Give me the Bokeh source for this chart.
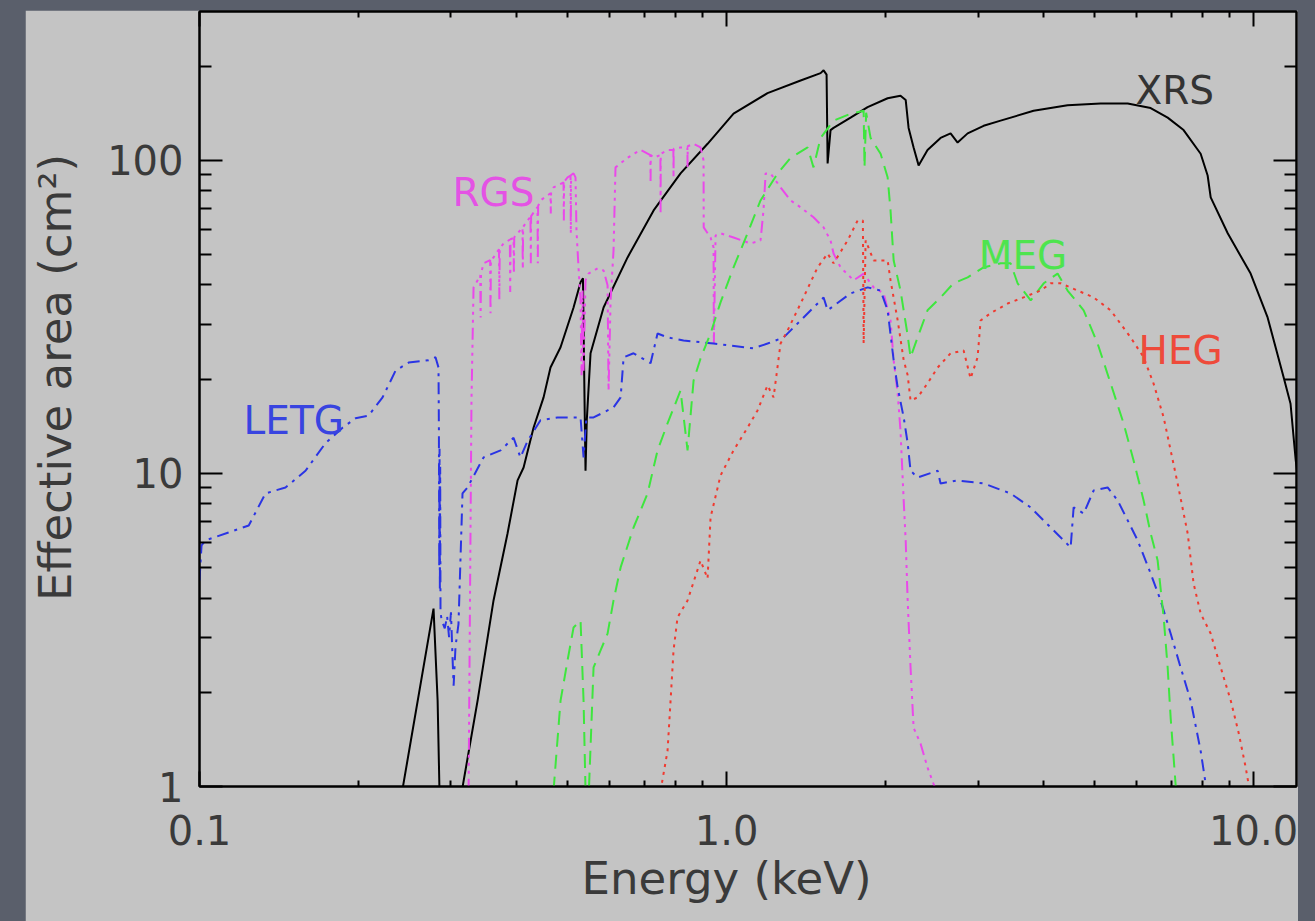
import numpy as np
from bokeh.plotting import figure
from bokeh.models import FixedTicker, LogAxis, Label, PrintfTickFormatter
from bokeh.layouts import column
from bokeh.embed import file_html
from bokeh.resources import INLINE

nan = np.nan

# ---------------- data: (energy keV, effective area cm^2) ----------------
xrs = [(0.2425, 0.97), (0.2780, 3.70), (0.2830, 1.88), (0.2853, 0.97), (nan, nan),
       (0.3147, 0.97), (0.3370, 1.88), (0.3613, 3.93), (0.3841, 6.43), (0.4013, 9.50),
       (0.4120, 10.45), (0.4303, 14.0), (0.4496, 17.5), (0.4634, 21.8), (0.4842, 25.3),
       (0.5125, 33.9), (0.5284, 40.8), (0.5340, 42.0), (0.5377, 17.1), (0.5400, 10.2),
       (0.5430, 14.8), (0.5520, 24.2), (0.5843, 33.9), (0.6489, 49.0), (0.7271, 69.2),
       (0.8179, 90.9), (0.9204, 113), (1.031, 141), (1.196, 164), (1.382, 180),
       (1.508, 190), (1.528, 194), (1.548, 188), (1.555, 97.8), (1.575, 125),
       (1.596, 127), (1.719, 137), (1.852, 148), (2.021, 158), (2.138, 161),
       (2.187, 156), (2.215, 127), (2.264, 110), (2.314, 96.4), (2.406, 108),
       (2.547, 118), (2.661, 122), (2.744, 114), (2.867, 122), (3.074, 129),
       (3.311, 134), (3.824, 144), (4.436, 150), (5.126, 152), (5.768, 152),
       (6.378, 147), (6.869, 137), (7.364, 125), (7.934, 105), (8.18, 89.5),
       (8.29, 76.2), (8.93, 58.5), (9.87, 43.5), (10.63, 31.5), (11.40, 20.3),
       (11.75, 16.7), (12.02, 11.0), (12.3, 8.0)]

rgs = [(0.3240, 0.97), (0.3281, 17.1), (0.3311, 39.3), (0.3370, 41.4), (0.3409, 43.0),
       (0.3415, 31.5), (0.3421, 43.5), (0.3459, 46.9), (0.3560, 48.0), (0.3566, 32.5),
       (0.3572, 48.2), (0.3613, 49.0), (0.3700, 52.0), (0.3706, 36.0), (0.3712, 52.3),
       (0.3775, 54.3), (0.3880, 55.8), (0.3886, 38.0), (0.3892, 56.0), (0.3943, 56.5),
       (0.3949, 43.5), (0.3955, 56.8), (0.4013, 58.5), (0.4100, 61.0), (0.4106, 45.0),
       (0.4112, 61.3), (0.4193, 64.3), (0.4246, 66.0), (0.4252, 46.9), (0.4258, 66.4),
       (0.4378, 71.0), (0.4384, 46.9), (0.4390, 71.5), (0.4436, 74.5), (0.4634, 78.5),
       (0.4640, 67.7), (0.4646, 79.0), (0.4696, 82.0), (0.4906, 85.0), (0.4912, 64.3),
       (0.4918, 85.5), (0.4993, 88.3), (0.5058, 89.5), (0.5064, 58.5), (0.5070, 89.8),
       (0.5125, 90.9), (0.5169, 88.3), (0.5191, 59.8), (0.5237, 45.5), (0.5284, 35.7),
       (0.5307, 20.6), (0.5330, 38.4), (0.5354, 21.3), (0.5400, 41.4), (0.5471, 43.5),
       (0.5691, 45.2), (0.5843, 44.5), (0.5946, 39.9), (0.5972, 18.4), (0.6025, 35.7),
       (0.6103, 51.6), (0.6156, 95.0), (0.6489, 102), (0.6867, 108), (0.7169, 104),
       (0.7175, 84.4), (0.7181, 104), (0.7271, 102), (0.7490, 104), (0.7496, 67.7),
       (0.7502, 105), (0.7727, 108), (0.7926, 108), (0.7932, 88.3), (0.7938, 109),
       (0.8179, 110), (0.8427, 110), (0.8433, 95.0), (0.8439, 111), (0.8658, 113),
       (0.8926, 110), (0.9044, 100), (0.9050, 61.1), (0.9325, 56.7), (0.9448, 52.7),
       (0.9460, 26.0), (0.9531, 57.6), (0.9740, 58.5), (1.031, 56.7), (1.111, 54.3),
       (1.160, 55.5), (1.175, 69.2), (1.186, 90.9), (1.212, 90.9), (1.266, 82.0),
       (1.323, 74.5), (1.382, 70.8), (1.462, 65.8), (1.528, 61.1), (1.575, 55.5),
       (1.596, 50.4), (1.646, 45.5), (1.742, 41.4), (1.820, 43.5), (1.901, 39.3),
       (1.986, 37.6), (2.047, 30.8), (2.075, 23.0), (2.112, 18.0), (2.138, 13.7),
       (2.168, 8.2), (2.187, 6.11), (2.206, 3.93), (2.234, 2.40), (2.264, 1.54),
       (2.334, 1.37), (2.406, 1.15), (2.470, 1.02), (2.50, 0.97)]

letg = [(0.1000, 4.55), (0.1009, 5.89), (0.1026, 6.11), (0.1135, 6.48), (0.1240, 6.82),
        (0.1334, 8.63), (0.1456, 9.02), (0.1589, 10.2), (0.1734, 12.5), (0.1868, 14.0),
        (0.1977, 15.0), (0.2093, 15.3), (0.2225, 17.5), (0.2355, 21.3), (0.2493, 22.6),
        (0.2720, 23.0), (0.2804, 23.5), (0.2841, 21.8), (0.2846, 13.7), (0.2850, 5.0),
        (0.2854, 12.0), (0.2858, 4.2), (0.2862, 10.5), (0.2866, 3.6), (0.2880, 3.4),
        (0.2920, 3.2), (0.2950, 3.5), (0.2975, 3.0), (0.3000, 3.6), (0.3020, 2.6),
        (0.3035, 2.1), (0.3060, 2.8), (0.3100, 3.3), (0.3155, 8.63), (0.3224, 9.02),
        (0.3459, 11.25), (0.3726, 11.85), (0.3943, 13.0), (0.4064, 11.25), (0.4193, 12.7),
        (0.4436, 14.8), (0.4778, 15.1), (0.5284, 15.1), (0.5354, 11.25), (0.5420, 15.1),
        (0.5593, 15.1), (0.6103, 16.25), (0.6295, 17.5), (0.6378, 23.5), (0.6661, 24.2),
        (0.7175, 22.5), (0.7397, 28.0), (0.7727, 27.2), (0.8286, 26.6), (0.9448, 26.0),
        (1.125, 25.1), (1.196, 26.0), (1.283, 27.2), (1.382, 30.8), (1.528, 36.5),
        (1.555, 33.2), (1.719, 37.6), (1.852, 39.3), (1.960, 38.4), (2.021, 33.2),
        (2.075, 23.0), (2.112, 18.8), (2.168, 15.1), (2.206, 12.5), (2.234, 10.2),
        (2.304, 9.71), (2.515, 10.2), (2.547, 9.29), (2.744, 9.5), (3.074, 9.29),
        (3.459, 8.63), (3.776, 7.79), (4.120, 6.72), (4.361, 6.11), (4.496, 5.80),
        (4.555, 7.79), (4.759, 7.45), (4.972, 8.83), (5.284, 9.02), (5.521, 8.2),
        (5.768, 7.08), (6.026, 6.11), (6.378, 4.79), (6.661, 3.93), (6.959, 3.08),
        (7.270, 2.40), (7.596, 1.88), (7.934, 1.30), (8.11, 1.02), (8.20, 0.97)]

meg = [(0.4696, 0.97), (0.4842, 1.88), (0.4993, 2.53), (0.5125, 3.22), (0.5284, 3.39),
       (0.5354, 1.88), (0.5400, 0.97), (0.5480, 0.97), (0.5593, 2.40), (0.5767, 2.72),
       (0.5946, 3.08), (0.6103, 3.93), (0.6295, 5.01), (0.6661, 6.72), (0.7082, 8.63),
       (0.7397, 11.85), (0.7727, 14.45), (0.8179, 18.4), (0.8433, 11.85), (0.8658, 19.8),
       (0.8926, 23.3), (0.9325, 28.0), (0.9740, 35.2), (1.031, 45.5), (1.096, 58.5),
       (1.160, 74.5), (1.250, 90.9), (1.323, 102), (1.425, 110), (1.462, 95.0),
       (1.508, 118), (1.596, 134), (1.719, 141), (1.820, 144), (1.827, 95),
       (1.840, 142), (1.876, 118), (1.960, 105), (2.021, 88.3), (2.047, 69.2),
       (2.075, 47.9), (2.138, 38.4), (2.206, 27.6), (2.234, 23.5), (2.304, 27.2),
       (2.406, 33.2), (2.547, 36.5), (2.696, 40.5), (2.867, 42.3), (3.074, 45.5),
       (3.311, 46.9), (3.459, 46.9), (3.566, 40.5), (3.776, 35.7), (3.997, 40.5),
       (4.247, 43.5), (4.436, 38.4), (4.759, 33.2), (5.058, 26.0), (5.354, 19.4),
       (5.666, 14.45), (5.919, 11.0), (6.184, 8.2), (6.378, 6.43), (6.575, 5.27),
       (6.750, 3.47), (6.869, 2.40), (6.959, 1.66), (7.11, 1.02), (7.13, 0.97)]

heg = [(0.7496, 0.97), (0.7727, 1.30), (0.7830, 1.88), (0.7932, 2.72), (0.8072, 3.47),
       (0.8433, 3.93), (0.8926, 5.27), (0.9204, 4.62), (0.9325, 7.24), (0.9740, 9.85),
       (1.031, 11.85), (1.096, 14.0), (1.145, 15.9), (1.196, 19.1), (1.228, 17.5),
       (1.266, 26.0), (1.305, 28.6), (1.382, 34.9), (1.488, 45.5), (1.555, 50.4),
       (1.596, 46.9), (1.697, 55.5), (1.773, 64.3), (1.814, 64.3), (1.820, 26.0),
       (1.836, 55.5), (1.901, 47.9), (2.021, 47.9), (2.047, 41.4), (2.112, 30.8),
       (2.168, 23.0), (2.206, 20.6), (2.234, 17.1), (2.304, 17.5), (2.406, 19.4),
       (2.515, 21.8), (2.661, 24.2), (2.817, 24.7), (2.904, 20.1), (2.994, 23.5),
       (3.034, 30.8), (3.170, 32.5), (3.414, 34.9), (3.660, 36.5), (3.944, 38.4),
       (4.120, 40.5), (4.304, 40.5), (4.634, 38.4), (4.972, 36.5), (5.354, 33.2),
       (5.843, 27.2), (6.184, 23.5), (6.457, 19.4), (6.750, 15.1), (6.959, 11.85),
       (7.175, 9.29), (7.497, 6.43), (7.693, 4.45), (7.934, 3.57), (8.29, 3.08),
       (8.66, 2.40), (9.05, 1.88), (9.37, 1.48), (9.66, 1.15), (9.78, 1.02), (9.83, 0.97)]

x_major = [0.1, 1.0, 10.0]
x_minor = [0.2, 0.3, 0.4, 0.5, 0.6, 0.7, 0.8, 0.9, 2, 3, 4, 5, 6, 7, 8, 9]
y_major = [1, 10, 100]
y_minor = [2, 3, 4, 5, 6, 7, 8, 9, 20, 30, 40, 50, 60, 70, 80, 90, 200]

x_title = "Energy (keV)"
y_title = "Effective area (cm²)"

# ---------------- styling ----------------
PANEL = "#c4c4c4"
SLIDE = "#5a5f6b"
FONT = "DejaVu Sans"
TXT = "#3a3a3a"
NB = "\u00a0"

p = figure(width=1273, height=911, x_axis_type="log", y_axis_type="log",
           x_range=(0.1, 12.06), y_range=(1, 299),
           output_backend="svg", toolbar_location=None,
           min_border_left=174, min_border_right=2, min_border_top=1,
           min_border_bottom=135,
           background_fill_color=PANEL, border_fill_color=PANEL,
           outline_line_color="black", outline_line_width=2)
p.margin = (10, 17, 0, 25)
p.grid.visible = False


def split(pairs):
    return [a for a, b in pairs], [b for a, b in pairs]


series = [
    (xrs, "#000000", "solid"),
    (rgs, "#ea48ea", "12 5 3 5 3 5 3 5"),
    (letg, "#2a34e4", "12 6 3 6"),
    (meg, "#3ee63e", "14 8"),
    (heg, "#f03a30", "3 5"),
]
for pairs, col, dash in series:
    xs, ys = split(pairs)
    p.line(xs, ys, line_color=col, line_width=2, line_dash=dash)


def style_axis(ax, ticks, minor, major_in, minor_in, fmt, show):
    ax.ticker = FixedTicker(ticks=ticks, minor_ticks=minor)
    ax.formatter = PrintfTickFormatter(format=fmt)
    ax.axis_line_color = "black"
    ax.axis_line_width = 2
    ax.major_tick_in = major_in
    ax.major_tick_out = 0
    ax.minor_tick_in = minor_in
    ax.minor_tick_out = 0
    ax.major_tick_line_color = "black"
    ax.minor_tick_line_color = "black"
    ax.major_tick_line_width = 2
    ax.minor_tick_line_width = 2
    ax.major_label_text_font = FONT
    if show:
        ax.major_label_text_color = TXT
        ax.major_label_text_font_size = "40px"
        ax.axis_label_text_font = FONT
        ax.axis_label_text_font_size = "45px"
        ax.axis_label_text_font_style = "normal"
        ax.axis_label_text_color = TXT
    else:
        # mirror axis: ticks only, labels not drawn
        ax.major_label_text_color = None
        ax.major_label_text_font_size = "0px"
        ax.major_label_standoff = 0


xa = p.xaxis[0]
style_axis(xa, x_major, x_minor, 15, 6, "%.1f", True)
xa.major_label_standoff = 28
# trailing no-break spaces nudge the centred title a little to the left
xa.axis_label = x_title + NB * 3
xa.axis_label_standoff = 4

ya = p.yaxis[0]
style_axis(ya, y_major, y_minor, 23, 12, "%d", True)
ya.major_label_standoff = 16
# leading no-break spaces nudge the centred (rotated) title upwards
ya.axis_label = NB * 3 + y_title
ya.axis_label_standoff = 22

top = LogAxis()
style_axis(top, x_major, x_minor, 15, 6, "%.1f", False)
p.add_layout(top, "above")
right = LogAxis()
style_axis(right, y_major, y_minor, 23, 12, "%d", False)
p.add_layout(right, "right")

# curve labels
curve_labels = [
    ("XRS", 5.97, 167, "#333333"),
    ("RGS", 0.302, 79.0, "#e452e4"),
    ("MEG", 3.01, 49.7, "#4ee44e"),
    ("HEG", 6.05, 24.7, "#ee4a3a"),
    ("LETG", 0.1212, 14.8, "#3844e0"),
]
for txt, lx, ly, col in curve_labels:
    p.add_layout(Label(x=lx, y=ly, text=txt, text_font=FONT, text_font_size="39px",
                       text_color=col, text_align="left", text_baseline="alphabetic"))

lay = column(p, styles={"background-color": SLIDE})

open("out.html", "w").write(file_html(lay, INLINE))
